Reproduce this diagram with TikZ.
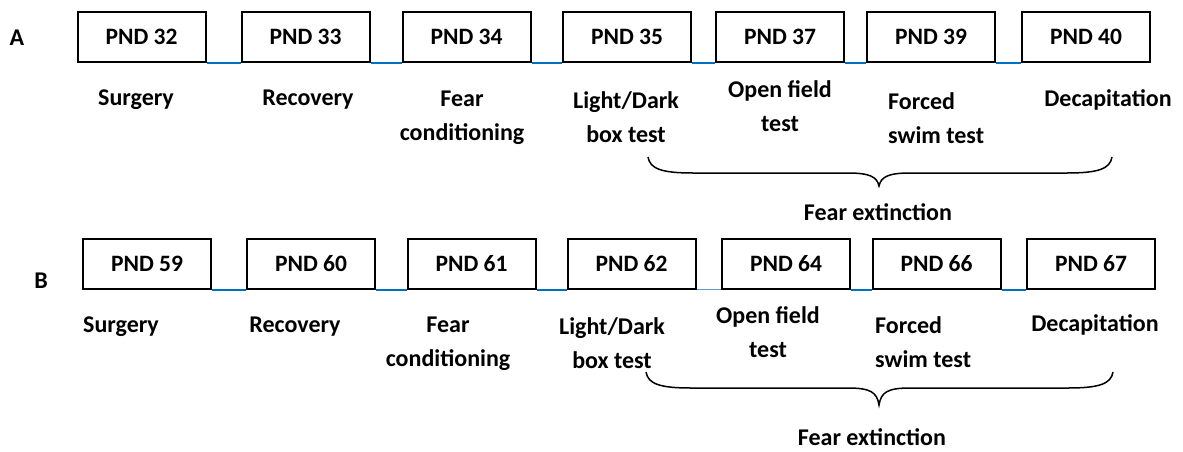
\documentclass[tikz,border=0pt]{standalone}
\usepackage{fontspec}
\setmainfont{Carlito}
\definecolor{lineblue}{RGB}{0,112,192}
\definecolor{lightblue}{RGB}{91,155,213}
\tikzset{
  pnd/.style={draw, line width=2pt, minimum width=128pt, minimum height=50pt, inner sep=0pt, font=\fontsize{23.5}{26}\selectfont\bfseries},
  lab/.style={font=\fontsize{24}{34}\selectfont\bfseries, align=center, inner sep=0pt},
  conn/.style={draw=lineblue, line width=2pt},
  thinconn/.style={draw=lightblue, line width=1.2pt},
  bracepath/.style={draw, line width=1.5pt}
}
\begin{document}
\begin{tikzpicture}[x=1pt,y=-1pt]
\useasboundingbox (0,0) rectangle (1183,452);
% Row A
\node[lab] (lA) at (17,38) {A};
\node[pnd] (a32) at (141.5,37) {PND 32};
\node[pnd] (a33) at (305.5,37) {PND 33};
\node[pnd] (a34) at (466.5,37) {PND 34};
\node[pnd] (a35) at (627,37) {PND 35};
\node[pnd] (a37) at (780,37) {PND 37};
\node[pnd] (a39) at (931,37) {PND 39};
\node[pnd] (a40) at (1086,37) {PND 40};
\draw[conn] (a32.south east) -- (a33.south west);
\draw[conn] (a33.south east) -- (a34.south west);
\draw[conn] (a34.south east) -- (a35.south west);
\draw[conn] (a35.south east) -- (a37.south west);
\draw[conn] (a37.south east) -- (a39.south west);
\draw[conn] (a39.south east) -- (a40.south west);
\node[lab] (sA) at (136,100) {Surgery};
\node[lab] (rA) at (308,100) {Recovery};
\node[lab] (fA) at (462,117.5) {Fear\\conditioning};
\node[lab] (ldA) at (626,117.5) {Light/Dark\\box test};
\node[lab] (oA) at (780,106) {Open field\\test};
\node[lab, anchor=west, align=left] (fsA) at (888,118.5) {Forced\\swim test};
\node[lab] (dA) at (1108,100) {Decapitation};
\begin{scope}[shift={(648,157)}]
\draw[bracepath] (0,0) .. controls (2,12) and (14,16) .. (45,16) -- (200,16) .. controls (222,16) and (229,20) .. (231,29) .. controls (233,20) and (240,16) .. (262,16) -- (419,16) .. controls (450,16) and (462,12) .. (464,0);
\end{scope}
\node[lab] (feA) at (878,212) {Fear extinction};
% Row B
\node[lab] (lB) at (41,281) {B};
\node[pnd] (b59) at (147,263.5) {PND 59};
\node[pnd] (b60) at (311,263.5) {PND 60};
\node[pnd] (b61) at (471.5,263.5) {PND 61};
\node[pnd] (b62) at (631.5,263.5) {PND 62};
\node[pnd] (b64) at (786,263.5) {PND 64};
\node[pnd] (b66) at (936.5,263.5) {PND 66};
\node[pnd] (b67) at (1091,263.5) {PND 67};
\draw[conn] (b59.south east) -- (b60.south west);
\draw[conn] (b60.south east) -- (b61.south west);
\draw[conn] (b61.south east) -- (b62.south west);
\draw[thinconn] (b62.south east) -- (b64.south west);
\draw[conn] (b64.south east) -- (b66.south west);
\draw[conn] (b66.south east) -- (b67.south west);
\node[lab] (sB) at (121,327) {Surgery};
\node[lab] (rB) at (295,327) {Recovery};
\node[lab] (fB) at (448,343.5) {Fear\\conditioning};
\node[lab] (ldB) at (612,343.5) {Light/Dark\\box test};
\node[lab] (oB) at (768,332.5) {Open field\\test};
\node[lab, anchor=west, align=left] (fsB) at (875,342.5) {Forced\\swim test};
\node[lab] (dB) at (1095,325) {Decapitation};
\begin{scope}[shift={(646,372)}]
\draw[bracepath] (0,0) .. controls (2,12) and (14,16) .. (45,16) -- (202,16) .. controls (224,16) and (231,20) .. (233,33) .. controls (235,20) and (242,16) .. (264,16) -- (422,16) .. controls (453,16) and (465,12) .. (467,0);
\end{scope}
\node[lab] (feB) at (872,437) {Fear extinction};
\end{tikzpicture}
\end{document}
